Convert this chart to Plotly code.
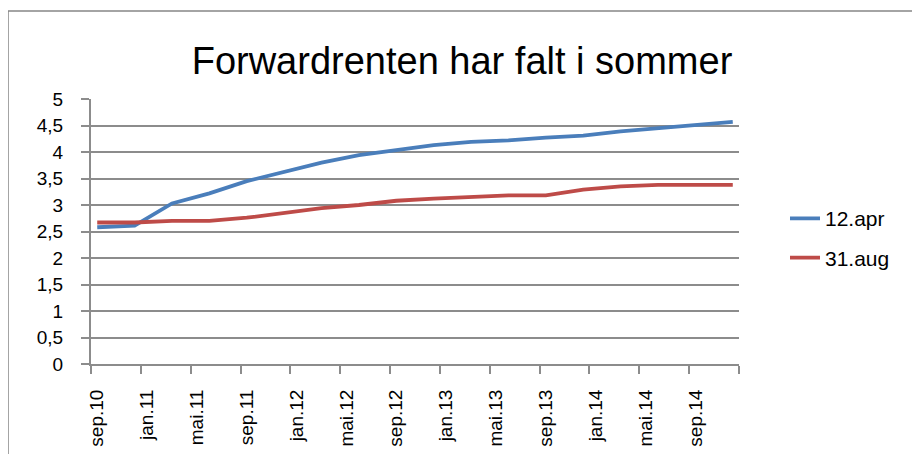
import plotly.graph_objects as go

# Quarterly observation dates (year-month)
dates = ["2010-09", "2010-12", "2011-03", "2011-06", "2011-09", "2011-12",
         "2012-03", "2012-06", "2012-09", "2012-12", "2013-03", "2013-06",
         "2013-09", "2013-12", "2014-03", "2014-06", "2014-09", "2014-12"]
apr12 = [2.58, 2.61, 3.03, 3.22, 3.45, 3.63, 3.80, 3.94, 4.04, 4.13, 4.19, 4.22,
         4.27, 4.31, 4.39, 4.45, 4.51, 4.57]
aug31 = [2.67, 2.67, 2.70, 2.70, 2.76, 2.85, 2.94, 3.00, 3.08, 3.12, 3.15, 3.18,
         3.18, 3.29, 3.35, 3.38, 3.38, 3.38]

tick_labels = ["sep.10", "jan.11", "mai.11", "sep.11", "jan.12", "mai.12", "sep.12",
               "jan.13", "mai.13", "sep.13", "jan.14", "mai.14", "sep.14"]
y_ticks = [0, 0.5, 1, 1.5, 2, 2.5, 3, 3.5, 4, 4.5, 5]

# month index relative to sep.10 (Excel date axis with monthly base unit)
x_month = [(int(d[:4]) - 2010) * 12 + int(d[5:]) - 9 for d in dates]
label_pos = [4 * i for i in range(len(tick_labels))]
n_months = x_month[-1] + 1

fig = go.Figure()
fig.add_trace(go.Scatter(x=x_month, y=apr12, mode="lines", name="12.apr",
                         line=dict(color="#4A7EBB", width=3.8), legendgroup="a"))
fig.add_trace(go.Scatter(x=x_month, y=aug31, mode="lines", name="31.aug",
                         line=dict(color="#BE4B48", width=3.8), legendgroup="b"))

W, H = 904, 446          # page body has an 8px margin
L, T = 83, 91            # plot area left / top inside the figure
PW, PH = 648, 265        # plot area size

grid = "#8C8C8C"
fig.update_layout(
    width=W, height=H,
    margin=dict(l=L, r=W - L - PW, t=T, b=H - T - PH, autoexpand=False),
    paper_bgcolor="white", plot_bgcolor="white",
    separators=", ",
    font=dict(family="Liberation Sans, Arial, sans-serif", color="black", size=16),
    title=dict(text="Forwardrenten har falt i sommer", x=454 / W, xref="container",
               xanchor="center", y=1 - 53 / H, yanchor="middle",
               font=dict(size=38, family="Liberation Sans, Arial, sans-serif")),
    showlegend=True,
    legend=dict(x=(777 - 83) / PW, xanchor="left", y=0.475, yanchor="middle",
                font=dict(size=21), tracegroupgap=9, bgcolor="rgba(0,0,0,0)"),
    xaxis=dict(range=[-0.5, n_months - 0.5], tickmode="array", tickvals=label_pos,
               ticktext=tick_labels, tickangle=-90, ticks="", showgrid=False,
               showline=True, linecolor=grid, linewidth=2, zeroline=False,
               ticklabelstandoff=16, automargin=False,
               tickfont=dict(size=19, family="Liberation Sans, Arial, sans-serif"),
               minor=dict(tickmode="linear", tick0=-0.5, dtick=4, ticks="outside",
                          ticklen=8, tickcolor=grid, tickwidth=2, showgrid=False)),
    yaxis=dict(range=[0, 5], tickmode="array", tickvals=y_ticks, showgrid=True,
               gridcolor=grid, gridwidth=1.5, showline=True, linecolor=grid,
               linewidth=2, zeroline=False, ticks="outside", ticklen=8,
               tickcolor=grid, tickwidth=2, ticklabelstandoff=14, automargin=False,
               tickfont=dict(size=19)),
)

# outer chart border (partially cropped in the reference)
fig.add_shape(type="rect", xref="paper", yref="paper",
              x0=(0 - L) / PW, x1=(W + 20 - L) / PW,
              y0=-(H + 20 - T - PH) / PH, y1=(T + PH - 3) / PH,
              line=dict(color="#868686", width=1.5), layer="below")

fig.write_html("out.html")
